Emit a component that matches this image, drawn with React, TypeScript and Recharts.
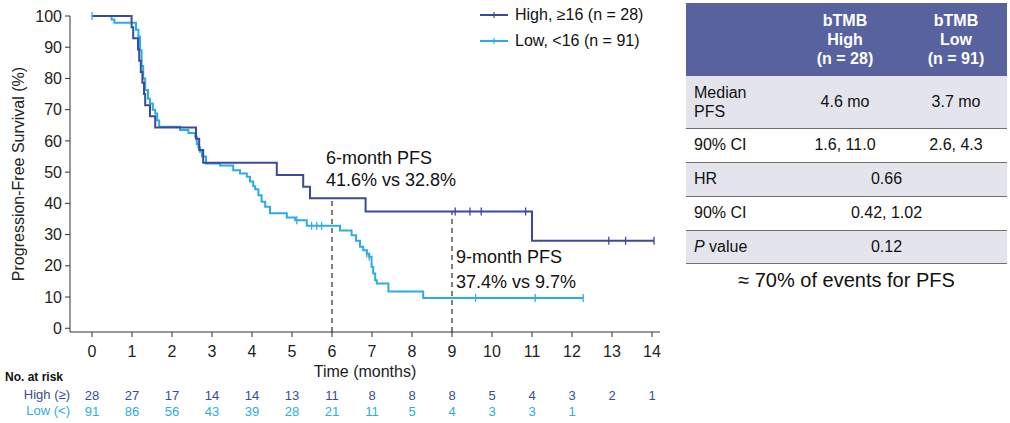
import React from "react";
import {
    LineChart,
    Line,
    XAxis,
    YAxis,
    ReferenceLine,
} from "recharts";

// 고위험(≥16) 군 계단 곡선: 시간(개월), PFS(%), 중도절단 여부
const highTime = [0, 0.99, 1.03, 1.15, 1.18, 1.22, 1.26, 1.3, 1.33, 1.45, 1.58, 2.6, 2.68, 2.78, 4.62, 5.28, 5.45, 6.84, 9.08, 9.45, 9.73, 10.84, 11.0, 12.92, 13.34, 14.05];
const highPfs = [100, 96.4, 92.9, 89.3, 85.7, 82.1, 78.6, 75.0, 71.4, 67.9, 64.3, 60.7, 57.1, 53.0, 49.1, 45.3, 41.6, 37.4, 37.4, 37.4, 37.4, 37.4, 28.0, 28.0, 28.0, 28.0];
const highCensor = [0, 0, 0, 0, 0, 0, 0, 0, 0, 0, 0, 0, 0, 0, 0, 0, 0, 0, 1, 1, 1, 1, 0, 1, 1, 1];

// 저위험(<16) 군
const lowTime = [0, 0.49, 0.56, 1.1, 1.16, 1.2, 1.24, 1.28, 1.33, 1.4, 1.45, 1.52, 1.58, 1.63, 1.68, 2.2, 2.41, 2.58, 2.62, 2.66, 2.7, 2.75, 2.85, 3.2, 3.53, 3.7, 3.87, 3.95, 4.03, 4.08, 4.16, 4.24, 4.33, 4.45, 4.87, 5.08, 5.12, 5.37, 5.49, 5.62, 5.74, 6.2, 6.49, 6.6, 6.7, 6.78, 6.87, 6.93, 6.99, 7.03, 7.08, 7.12, 7.41, 8.28, 9.59, 11.08, 12.28];
const lowPfs = [100, 98.9, 97.8, 95.6, 93.4, 89.0, 84.0, 80.0, 76.3, 73.5, 72.0, 70.0, 68.8, 66.5, 64.5, 63.5, 62.5, 61.3, 59.0, 58.0, 56.5, 55.0, 52.8, 52.1, 50.6, 49.6, 48.5, 47.0, 45.5, 44.5, 42.6, 40.5, 38.9, 36.8, 35.5, 34.6, 34.6, 32.8, 32.8, 32.8, 32.8, 31.3, 29.8, 28.0, 26.1, 25.0, 23.9, 22.9, 19.6, 17.5, 15.4, 14.3, 11.8, 9.7, 9.7, 9.7, 9.7];
const lowCensor = [1, 0, 0, 0, 0, 0, 0, 0, 0, 0, 0, 0, 0, 0, 0, 0, 0, 0, 0, 0, 0, 0, 0, 0, 0, 0, 0, 0, 0, 0, 0, 0, 0, 0, 0, 0, 1, 0, 1, 1, 1, 0, 0, 0, 0, 0, 1, 1, 0, 0, 0, 0, 0, 0, 1, 1, 1];

const monthTicks = [0, 1, 2, 3, 4, 5, 6, 7, 8, 9, 10, 11, 12, 13, 14];
const pfsTicks = [0, 10, 20, 30, 40, 50, 60, 70, 80, 90, 100];
const highAtRisk = [28, 27, 17, 14, 14, 13, 11, 8, 8, 8, 5, 4, 3, 2, 1];
const lowAtRisk = [91, 86, 56, 43, 39, 28, 21, 11, 5, 4, 3, 3, 1];

const HIGH_COLOR = "#3B4A9A";
const LOW_COLOR = "#2BADE4";
const FONT = "'Liberation Sans', Arial, sans-serif";
const NARROW = "'Liberation Sans Narrow', 'Arial Narrow', 'Liberation Sans', Arial, sans-serif";

const highData = highTime.map((t, i) => ({ t, pfs: highPfs[i], c: highCensor[i] }));
const lowData = lowTime.map((t, i) => ({ t, pfs: lowPfs[i], c: lowCensor[i] }));

// 중도절단 표시 (세로 눈금)
const censorDot = (color: string) => (props: any) => {
    const { cx, cy, payload, index } = props;
    if (!payload || !payload.c) return <g key={`d-${index}`} />;
    return (
        <line
            key={`d-${index}`}
            x1={cx}
            x2={cx}
            y1={cy - 4}
            y2={cy + 4}
            stroke={color}
            strokeWidth={1.3}
        />
    );
};

// x축 눈금 + 아래쪽 위험군 수
const MonthTick = (props: any) => {
    const { x, y, payload } = props;
    const i = payload.value;
    return (
        <g>
            <text x={x} y={y + 10} textAnchor="middle" dominantBaseline="central" fill="#222" fontSize={16} fontFamily={FONT}>
                {i}
            </text>
            {highAtRisk[i] !== undefined && (
                <text x={x} y={y + 54} textAnchor="middle" dominantBaseline="central" fill={HIGH_COLOR} fontSize={13} fontFamily={NARROW}>
                    {highAtRisk[i]}
                </text>
            )}
            {lowAtRisk[i] !== undefined && (
                <text x={x} y={y + 70} textAnchor="middle" dominantBaseline="central" fill={LOW_COLOR} fontSize={13} fontFamily={NARROW}>
                    {lowAtRisk[i]}
                </text>
            )}
        </g>
    );
};

const rowStyle = (bg: string): React.CSSProperties => ({
    background: bg,
    borderBottom: "1px solid #707070",
});

const App = () => {
    const tickStyle = { fontSize: 16, fill: "#222", fontFamily: FONT };
    return (
        <div
            style={{
                position: "absolute",
                left: 0,
                top: 0,
                width: 1010,
                height: 423,
                background: "#fff",
                fontFamily: FONT,
                color: "#111",
            }}
        >
            <LineChart
                width={680}
                height={423}
                margin={{ top: 16, right: 20, bottom: 4, left: 0 }}
            >
                <XAxis
                    type="number"
                    dataKey="t"
                    domain={[-0.55, 14.2]}
                    ticks={monthTicks}
                    height={87}
                    tickSize={5}
                    tickMargin={4}
                    tick={<MonthTick />}
                    interval={0}
                    stroke="#333"
                    label={{
                        value: "Time (months)",
                        position: "insideBottom",
                        offset: 42,
                        style: { fontSize: 16, fill: "#222", fontFamily: FONT },
                    }}
                />
                <YAxis
                    type="number"
                    domain={[-1.2, 100]}
                    ticks={pfsTicks}
                    width={70}
                    tickSize={5}
                    tickMargin={3}
                    tick={tickStyle}
                    stroke="#333"
                    label={{
                        value: "Progression-Free Survival (%)",
                        angle: -90,
                        position: "insideLeft",
                        offset: 18,
                        style: {
                            fontSize: 16,
                            fill: "#222",
                            fontFamily: FONT,
                            textAnchor: "middle",
                        },
                    }}
                />
                <ReferenceLine
                    segment={[
                        { x: 6, y: -1.2 },
                        { x: 6, y: 41.6 },
                    ]}
                    stroke="#000"
                    strokeDasharray="5 4"
                />
                <ReferenceLine
                    segment={[
                        { x: 9, y: -1.2 },
                        { x: 9, y: 37.4 },
                    ]}
                    stroke="#000"
                    strokeDasharray="5 4"
                />
                <Line
                    data={lowData}
                    dataKey="pfs"
                    type="stepAfter"
                    stroke={LOW_COLOR}
                    strokeWidth={2}
                    dot={censorDot(LOW_COLOR)}
                    activeDot={false}
                    isAnimationActive={false}
                />
                <Line
                    data={highData}
                    dataKey="pfs"
                    type="stepAfter"
                    stroke={HIGH_COLOR}
                    strokeWidth={2}
                    dot={censorDot(HIGH_COLOR)}
                    activeDot={false}
                    isAnimationActive={false}
                />
            </LineChart>

            {/* 범례 */}
            {[
                { label: "High, \u226516 (n = 28)", color: HIGH_COLOR, y: 15 },
                { label: "Low, <16 (n = 91)", color: LOW_COLOR, y: 41 },
            ].map((it) => (
                <div
                    key={it.label}
                    style={{
                        position: "absolute",
                        left: 480,
                        top: it.y - 10,
                        height: 20,
                        display: "flex",
                        alignItems: "center",
                        fontSize: 16,
                    }}
                >
                    <svg width={30} height={20}>
                        <line x1={0} x2={28} y1={10} y2={10} stroke={it.color} strokeWidth={2} />
                        <line x1={14} x2={14} y1={7} y2={13} stroke={it.color} strokeWidth={1.2} />
                    </svg>
                    <span style={{ marginLeft: 5 }}>{it.label}</span>
                </div>
            ))}

            {/* 주석 */}
            <div style={{ position: "absolute", left: 326, top: 147, fontSize: 18, lineHeight: "22px" }}>
                6-month PFS
                <br />
                41.6% vs 32.8%
            </div>
            <div style={{ position: "absolute", left: 456, top: 245, fontSize: 18, lineHeight: "25px" }}>
                9-month PFS
                <br />
                37.4% vs 9.7%
            </div>

            {/* 위험군 수 */}
            <div style={{ position: "absolute", left: 5, top: 370, fontSize: 12, fontWeight: "bold", fontFamily: NARROW }}>
                No. at risk
            </div>
            <div style={{ position: "absolute", left: 0, width: 70, textAlign: "right", top: 387, fontSize: 13, color: HIGH_COLOR, fontFamily: NARROW }}>
                High (≥)
            </div>
            <div style={{ position: "absolute", left: 0, width: 70, textAlign: "right", top: 403, fontSize: 13, color: LOW_COLOR, fontFamily: NARROW }}>
                Low (&lt;)
            </div>

            {/* 요약 표 */}
            <table
                style={{
                    position: "absolute",
                    left: 686,
                    top: 3,
                    width: 321,
                    borderCollapse: "collapse",
                    fontSize: 16,
                    fontFamily: FONT,
                }}
            >
                <colgroup>
                    <col style={{ width: 99 }} />
                    <col style={{ width: 120 }} />
                    <col style={{ width: 102 }} />
                </colgroup>
                <tbody>
                    <tr style={{ background: "#58629F", height: 73, color: "#fff", fontWeight: "bold", lineHeight: "19px" }}>
                        <td />
                        <td style={{ textAlign: "center" }}>
                            bTMB
                            <br />
                            High
                            <br />
                            (n = 28)
                        </td>
                        <td style={{ textAlign: "center" }}>
                            bTMB
                            <br />
                            Low
                            <br />
                            (n = 91)
                        </td>
                    </tr>
                    <tr style={{ ...rowStyle("#E4E5EC"), height: 52 }}>
                        <td style={{ paddingLeft: 8, lineHeight: "19px" }}>
                            Median
                            <br />
                            PFS
                        </td>
                        <td style={{ textAlign: "center" }}>4.6 mo</td>
                        <td style={{ textAlign: "center" }}>3.7 mo</td>
                    </tr>
                    <tr style={{ ...rowStyle("#fff"), height: 34 }}>
                        <td style={{ paddingLeft: 8 }}>90% CI</td>
                        <td style={{ textAlign: "center" }}>1.6, 11.0</td>
                        <td style={{ textAlign: "center" }}>2.6, 4.3</td>
                    </tr>
                    <tr style={{ ...rowStyle("#E4E5EC"), height: 34 }}>
                        <td style={{ paddingLeft: 8 }}>HR</td>
                        <td colSpan={2} style={{ textAlign: "center", paddingRight: 20 }}>0.66</td>
                    </tr>
                    <tr style={{ ...rowStyle("#fff"), height: 34 }}>
                        <td style={{ paddingLeft: 8 }}>90% CI</td>
                        <td colSpan={2} style={{ textAlign: "center", paddingRight: 20 }}>0.42, 1.02</td>
                    </tr>
                    <tr style={{ ...rowStyle("#E4E5EC"), height: 33 }}>
                        <td style={{ paddingLeft: 8 }}>
                            <i>P</i> value
                        </td>
                        <td colSpan={2} style={{ textAlign: "center", paddingRight: 20 }}>0.12</td>
                    </tr>
                </tbody>
            </table>
            <div
                style={{
                    position: "absolute",
                    left: 686,
                    width: 321,
                    top: 269,
                    textAlign: "center",
                    fontSize: 20,
                }}
            >
                ≈ 70% of events for PFS
            </div>
        </div>
    );
};

export default App;
